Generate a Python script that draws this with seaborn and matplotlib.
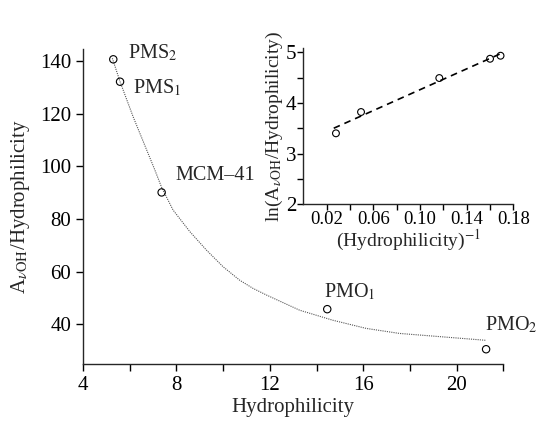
import matplotlib
matplotlib.use("Agg")
import matplotlib.pyplot as plt
import seaborn as sns
import numpy as np
import pandas as pd

# ---- data ----
samples = ["PMS$_2$", "PMS$_1$", "MCM\u201341", "PMO$_1$", "PMO$_2$"]
hydrophilicity = [5.30, 5.59, 7.37, 14.46, 21.26]
a_over_h = [140.6, 132.1, 90.1, 45.8, 30.6]

# fitted decay curve as drawn
curve_x = [5.26, 5.59, 6.15, 6.73, 7.08, 7.37, 7.86, 8.58, 9.29, 10.00,
           10.71, 11.28, 11.85, 13.28, 14.70, 16.13, 17.55, 18.97, 21.23]
curve_y = [141.0, 132.1, 118.8, 106.2, 98.6, 92.0, 83.4, 75.2, 68.2, 61.9,
           56.8, 53.7, 51.2, 45.4, 41.6, 38.5, 36.6, 35.6, 34.0]

# label anchor positions (data coords)
label_x = [5.93, 6.15, 7.94, 14.30, 21.23]
label_y = [143.0, 129.6, 96.7, 52.4, 40.0]

# inset
inv_h = [0.0279, 0.0494, 0.1165, 0.160, 0.169]
ln_ratio = [3.40, 3.82, 4.49, 4.87, 4.93]
inset_line_x = [0.026, 0.170]
inset_line_y = [3.50, 4.98]

main_xticks = [4, 8, 12, 16, 20]
main_xminor = [6, 10, 14, 18, 22]
main_yticks = [40, 60, 80, 100, 120, 140]
inset_xticks = [0.02, 0.06, 0.10, 0.14, 0.18]
inset_xticklabels = ["0.02", "0.06", "0.10", "0.14", "0.18"]
inset_xminor = [0.04, 0.08, 0.12, 0.16]
inset_yticks = [2, 3, 4, 5]
inset_yminor = [2.5, 3.5, 4.5]

sns.set_style("ticks")
plt.rcParams["font.family"] = ["Liberation Serif", "DejaVu Serif"]
plt.rcParams["mathtext.fontset"] = "stix"
plt.rcParams["axes.linewidth"] = 1.0

fig = plt.figure(figsize=(5.37, 4.21), dpi=100)
ax = fig.add_axes([0.1544, 0.1354, 0.783, 0.7475])

df = pd.DataFrame({"x": hydrophilicity, "y": a_over_h})
cdf = pd.DataFrame({"x": curve_x, "y": curve_y})

sns.lineplot(data=cdf, x="x", y="y", ax=ax, color="#555555", lw=0.8,
             linestyle=(0, (1, 1)), sort=False, estimator=None)
sns.scatterplot(data=df, x="x", y="y", ax=ax, marker="o", s=28,
                facecolor="none", edgecolor="black", linewidth=0.8, zorder=3)

for t, lx, ly in zip(samples, label_x, label_y):
    ax.text(lx, ly, t, fontsize=14.5, ha="left", va="center", clip_on=False)

ax.set_xlim(4, 22)
ax.set_ylim(25, 144.4)
ax.set_xticks(main_xticks)
ax.set_xticks(main_xminor, minor=True)
ax.set_yticks(main_yticks)
ax.tick_params(axis="both", which="both", direction="out", length=5,
               width=1.0, labelsize=15, colors="black")
ax.tick_params(axis="x", pad=4)
ax.set_xlabel("Hydrophilicity", fontsize=15, labelpad=2)
ax.set_ylabel(r"A$_{\nu\mathrm{OH}}$/Hydrophilicity", fontsize=15, labelpad=6)
sns.despine(ax=ax)

# ---- inset ----
ax2 = fig.add_axes([0.565, 0.5147, 0.391, 0.371])
idf = pd.DataFrame({"x": inv_h, "y": ln_ratio})
ldf = pd.DataFrame({"x": inset_line_x, "y": inset_line_y})
sns.lineplot(data=ldf, x="x", y="y", ax=ax2, color="black", lw=1.2,
             linestyle=(0, (4, 3)), estimator=None)
sns.scatterplot(data=idf, x="x", y="y", ax=ax2, marker="o", s=24,
                facecolor="none", edgecolor="black", linewidth=0.8, zorder=3)
ax2.set_xlim(0, 0.18)
ax2.set_ylim(2, 5.08)
ax2.set_xticks(inset_xticks)
ax2.set_xticklabels(inset_xticklabels)
ax2.set_xticks(inset_xminor, minor=True)
ax2.set_yticks(inset_yticks)
ax2.set_yticks(inset_yminor, minor=True)
ax2.tick_params(axis="both", which="both", direction="out", length=4,
                width=1.0, colors="black")
ax2.tick_params(axis="x", labelsize=13.5, pad=1)
ax2.tick_params(axis="y", labelsize=15, pad=1)
ax2.set_xlabel(r"(Hydrophilicity)$^{-1}$", fontsize=14, labelpad=0)
ax2.set_ylabel(r"ln(A$_{\nu\mathrm{OH}}$/Hydrophilicity)", fontsize=14, labelpad=1)
ax2.patch.set_alpha(0)
sns.despine(ax=ax2)

fig.savefig("out.png", dpi=100)
